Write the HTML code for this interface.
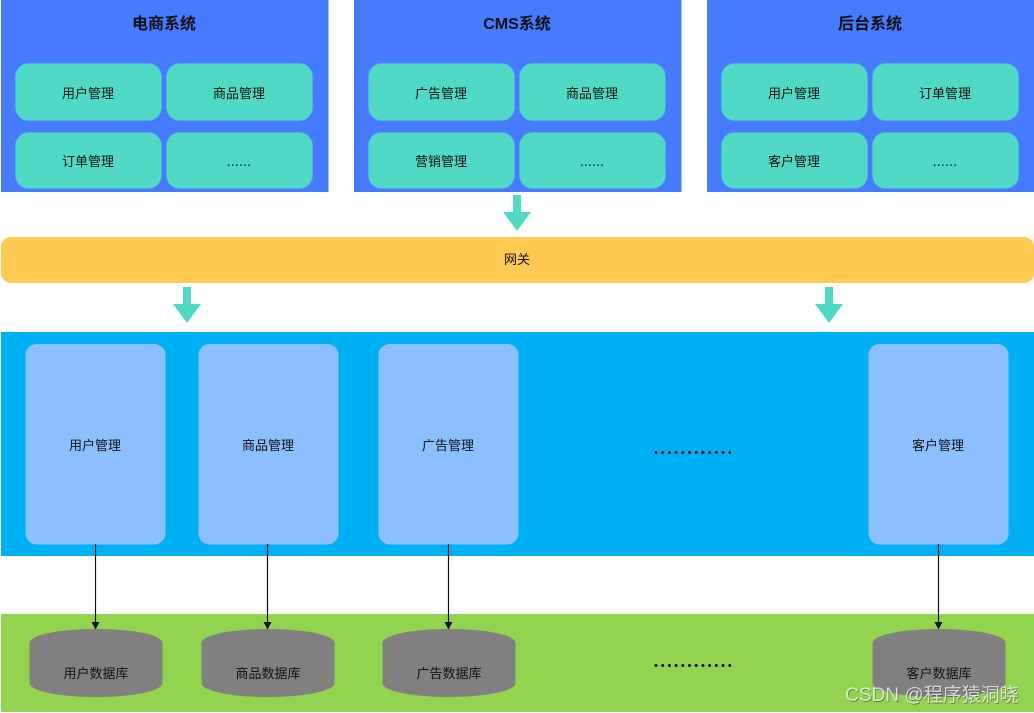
<!DOCTYPE html>
<html>
<head>
<meta charset="utf-8">
<style>
html,body{margin:0;padding:0;background:#fff;width:1034px;height:713px;overflow:hidden}
svg{display:block}
text{font-family:"Liberation Sans","Noto Sans CJK SC",sans-serif;font-size:13px;fill:#111;text-anchor:middle}
.t{font-size:16px;font-weight:bold}
.c{fill:#50d9c4;stroke:#52b8d8;stroke-width:1;stroke-opacity:.55}
.e{font-size:14px;letter-spacing:.2px}
.s{fill:#8cbfff}
.a{fill:#50d9c4}
.l{stroke:#111;stroke-width:1.2}
.h{fill:#111}
.d{fill:#808080}
.b{font-size:13px}
</style>
</head>
<body>
<svg width="1034" height="713" viewBox="0 0 1034 713" xmlns="http://www.w3.org/2000/svg">
<rect x="1" y="0" width="327.500" height="192" fill="#467aff"/>
<rect x="354" y="0" width="327.500" height="192" fill="#467aff"/>
<rect x="707" y="0" width="327" height="192" fill="#467aff"/>
<text class="t" x="164" y="29">电商系统</text>
<text class="t" x="517" y="29">CMS系统</text>
<text class="t" x="870" y="29">后台系统</text>

<rect class="c" x="15.500" y="63.500" width="146" height="57" rx="13"/>
<rect class="c" x="166.500" y="63.500" width="146" height="57" rx="13"/>
<rect class="c" x="15.500" y="132.500" width="146" height="56" rx="13"/>
<rect class="c" x="166.500" y="132.500" width="146" height="56" rx="13"/>
<text x="88" y="98">用户管理</text>
<text x="239" y="98">商品管理</text>
<text x="88" y="166">订单管理</text>
<text class="e" x="239" y="166">......</text>

<rect class="c" x="368.500" y="63.500" width="146" height="57" rx="13"/>
<rect class="c" x="519.500" y="63.500" width="146" height="57" rx="13"/>
<rect class="c" x="368.500" y="132.500" width="146" height="56" rx="13"/>
<rect class="c" x="519.500" y="132.500" width="146" height="56" rx="13"/>
<text x="441" y="98">广告管理</text>
<text x="592" y="98">商品管理</text>
<text x="441" y="166">营销管理</text>
<text class="e" x="592" y="166">......</text>

<rect class="c" x="721.500" y="63.500" width="146" height="57" rx="13"/>
<rect class="c" x="872.500" y="63.500" width="146" height="57" rx="13"/>
<rect class="c" x="721.500" y="132.500" width="146" height="56" rx="13"/>
<rect class="c" x="872.500" y="132.500" width="146" height="56" rx="13"/>
<text x="794" y="98">用户管理</text>
<text x="945" y="98">订单管理</text>
<text x="794" y="166">客户管理</text>
<text class="e" x="945" y="166">......</text>

<polygon class="a" points="513,195 521,195 521,212 531,212 517,231 503,212 513,212"/>

<rect x="1" y="237" width="1033" height="46" rx="10" fill="#ffc952"/>
<text x="517" y="264">网关</text>

<polygon class="a" points="183,287 191,287 191,304 201,304 187,323 173,304 183,304"/>
<polygon class="a" points="825,287 833,287 833,304 843,304 829,323 815,304 825,304"/>

<rect x="1" y="332" width="1033" height="224" fill="#00b0f4"/>
<rect class="s" x="25.500" y="344" width="140" height="200.500" rx="11"/>
<rect class="s" x="198.500" y="344" width="140" height="200.500" rx="11"/>
<rect class="s" x="378.500" y="344" width="140" height="200.500" rx="11"/>
<rect class="s" x="868.500" y="344" width="140" height="200.500" rx="11"/>
<text x="95" y="450">用户管理</text>
<text x="268" y="450">商品管理</text>
<text x="448" y="450">广告管理</text>
<text x="938" y="450">客户管理</text>

<rect x="1" y="614" width="1033" height="98" fill="#92d450"/>

<g fill="#111">
<circle cx="656" cy="452.500" r="1.500"/><circle cx="662.700" cy="452.500" r="1.500"/><circle cx="669.400" cy="452.500" r="1.500"/><circle cx="676.100" cy="452.500" r="1.500"/><circle cx="682.800" cy="452.500" r="1.500"/><circle cx="689.500" cy="452.500" r="1.500"/><circle cx="696.200" cy="452.500" r="1.500"/><circle cx="702.900" cy="452.500" r="1.500"/><circle cx="709.600" cy="452.500" r="1.500"/><circle cx="716.300" cy="452.500" r="1.500"/><circle cx="723" cy="452.500" r="1.500"/><circle cx="729.700" cy="452.500" r="1.500"/>
<circle cx="656" cy="665.500" r="1.500"/><circle cx="662.700" cy="665.500" r="1.500"/><circle cx="669.400" cy="665.500" r="1.500"/><circle cx="676.100" cy="665.500" r="1.500"/><circle cx="682.800" cy="665.500" r="1.500"/><circle cx="689.500" cy="665.500" r="1.500"/><circle cx="696.200" cy="665.500" r="1.500"/><circle cx="702.900" cy="665.500" r="1.500"/><circle cx="709.600" cy="665.500" r="1.500"/><circle cx="716.300" cy="665.500" r="1.500"/><circle cx="723" cy="665.500" r="1.500"/><circle cx="729.700" cy="665.500" r="1.500"/>
</g>

<path class="d" d="M29.500 643 C29.500 635 59 629 96 629 C133 629 162.500 635 162.500 643 V683 C162.500 691 133 697 96 697 C59 697 29.500 691 29.500 683 Z"/>
<path class="d" d="M201.500 643 C201.500 635 231 629 268 629 C305 629 334.500 635 334.500 643 V683 C334.500 691 305 697 268 697 C231 697 201.500 691 201.500 683 Z"/>
<path class="d" d="M382.500 643 C382.500 635 412 629 449 629 C486 629 515.500 635 515.500 643 V683 C515.500 691 486 697 449 697 C412 697 382.500 691 382.500 683 Z"/>
<path class="d" d="M872.500 643 C872.500 635 902 629 939 629 C976 629 1005.500 635 1005.500 643 V683 C1005.500 691 976 697 939 697 C902 697 872.500 691 872.500 683 Z"/>
<text class="b" x="96" y="678">用户数据库</text>
<text class="b" x="268" y="678">商品数据库</text>
<text class="b" x="449" y="678">广告数据库</text>
<text class="b" x="939" y="678">客户数据库</text>

<line class="l" x1="95.500" y1="544" x2="95.500" y2="623"/><polygon class="h" points="91.500,622 99.500,622 95.500,629.500"/>
<line class="l" x1="267.500" y1="544" x2="267.500" y2="623"/><polygon class="h" points="263.500,622 271.500,622 267.500,629.500"/>
<line class="l" x1="448.500" y1="544" x2="448.500" y2="623"/><polygon class="h" points="444.500,622 452.500,622 448.500,629.500"/>
<line class="l" x1="938.500" y1="544" x2="938.500" y2="623"/><polygon class="h" points="934.500,622 942.500,622 938.500,629.500"/>

<text x="932" y="701" style="font-size:19px;fill:rgba(60,60,60,.55)" transform="translate(.8 .8)">CSDN @程序猿洞晓</text>
<text x="932" y="701" style="font-size:19px;fill:rgba(255,255,255,.72)">CSDN @程序猿洞晓</text>
</svg>
</body>
</html>
